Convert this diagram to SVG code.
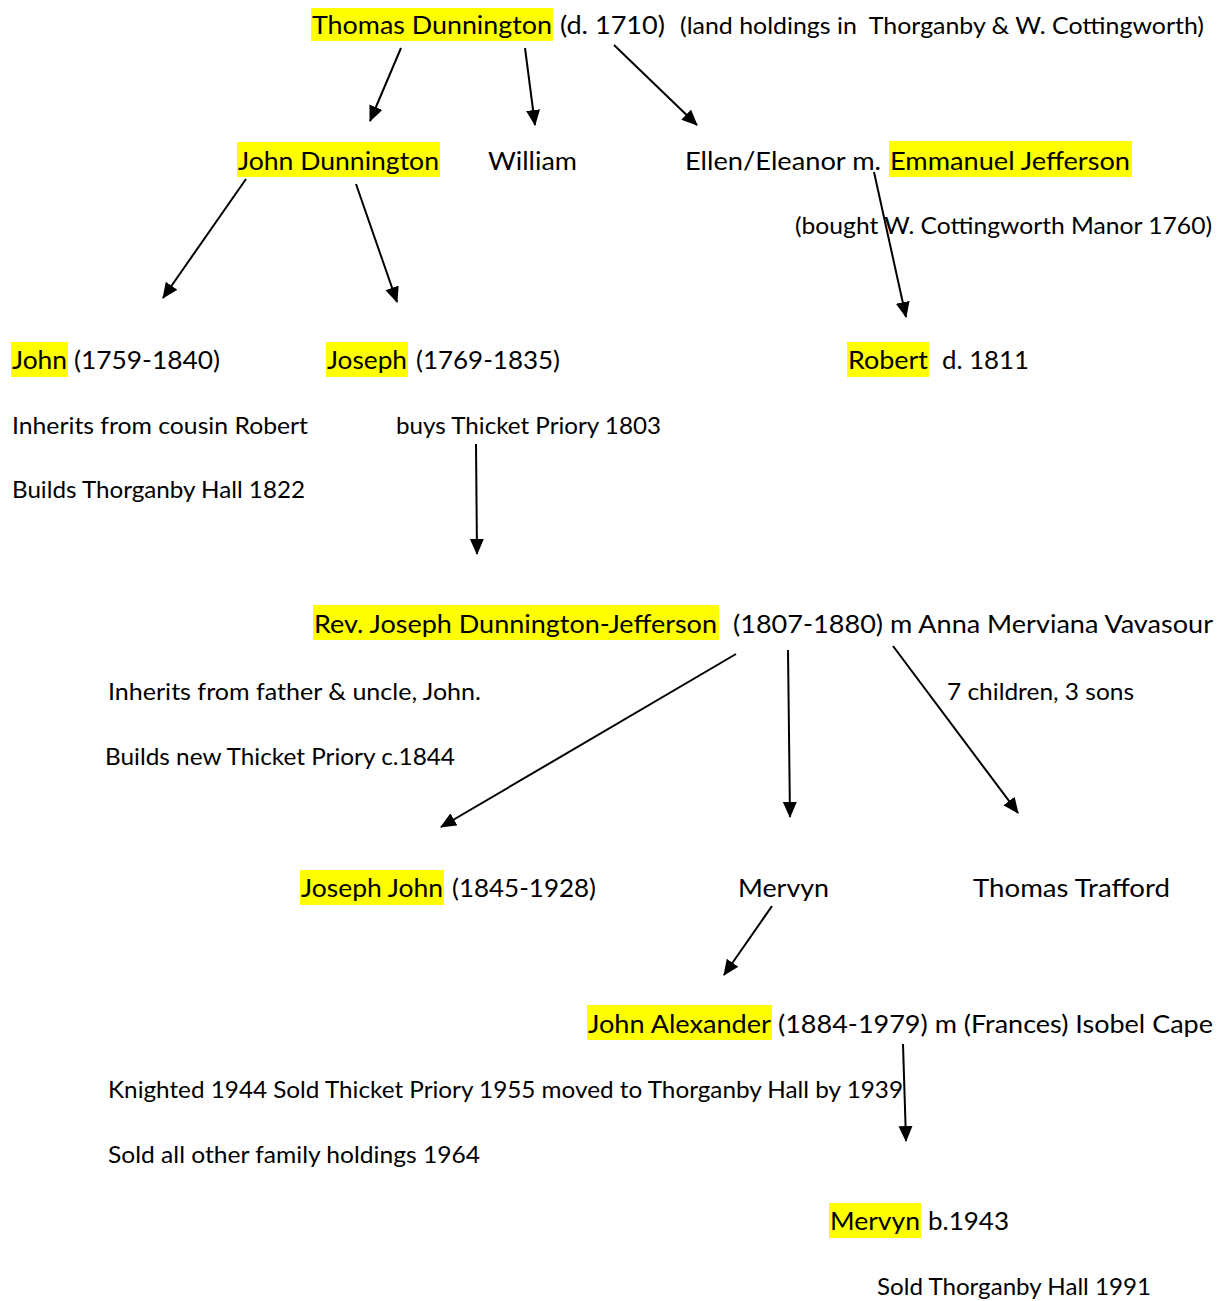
<svg xmlns="http://www.w3.org/2000/svg" width="1225" height="1301" viewBox="0 0 1225 1301">
<style>
text{font-family:Lato,"Open Sans","Liberation Sans",sans-serif;font-size:25px;fill:#000;white-space:pre}
.s{font-size:23px}
.hl{fill:#ffff00}
.c line{stroke:#000;stroke-width:2;marker-end:url(#ah)}
</style>
<defs>
<marker id="ah" markerUnits="userSpaceOnUse" markerWidth="17" markerHeight="15" refX="15" refY="7" orient="auto">
<path d="M0,0 L16,7 L0,14 z" fill="#000"/>
</marker>
</defs>
<rect width="1225" height="1301" fill="#fff"/>
<g id="thomas">
<rect class="hl" x="311" y="8" width="242" height="33"/>
<text x="312" y="34" textLength="240" lengthAdjust="spacingAndGlyphs">Thomas Dunnington</text>
<text x="560" y="34" textLength="105" lengthAdjust="spacingAndGlyphs">(d. 1710)</text>
<text class="s" x="680" y="34" textLength="524" lengthAdjust="spacingAndGlyphs" xml:space="preserve">(land holdings in  Thorganby &amp; W. Cottingworth)</text>
</g>
<g id="john-dunnington">
<rect class="hl" x="237" y="142" width="203" height="35"/>
<text x="238" y="170" textLength="201" lengthAdjust="spacingAndGlyphs">John Dunnington</text>
</g>
<g id="william">
<text x="488" y="170" textLength="89" lengthAdjust="spacingAndGlyphs">William</text>
</g>
<g id="ellen">
<text x="685" y="170" textLength="196" lengthAdjust="spacingAndGlyphs">Ellen/Eleanor m.</text>
<rect class="hl" x="889" y="141" width="243" height="36"/>
<text x="890" y="170" textLength="240" lengthAdjust="spacingAndGlyphs">Emmanuel Jefferson</text>
<text class="s" x="795" y="234" textLength="417" lengthAdjust="spacingAndGlyphs">(bought W. Cottingworth Manor 1760)</text>
</g>
<g id="john">
<rect class="hl" x="11" y="342" width="57" height="35"/>
<text x="12" y="369" textLength="55" lengthAdjust="spacingAndGlyphs">John</text>
<text x="74" y="369" textLength="146" lengthAdjust="spacingAndGlyphs">(1759-1840)</text>
<text class="s" x="12" y="434" textLength="296" lengthAdjust="spacingAndGlyphs">Inherits from cousin Robert</text>
<text class="s" x="12" y="498" textLength="293" lengthAdjust="spacingAndGlyphs">Builds Thorganby Hall 1822</text>
</g>
<g id="joseph">
<rect class="hl" x="326" y="342" width="82" height="35"/>
<text x="327" y="369" textLength="80" lengthAdjust="spacingAndGlyphs">Joseph</text>
<text x="416" y="369" textLength="144" lengthAdjust="spacingAndGlyphs">(1769-1835)</text>
<text class="s" x="396" y="434" textLength="265" lengthAdjust="spacingAndGlyphs">buys Thicket Priory 1803</text>
</g>
<g id="robert">
<rect class="hl" x="847" y="342" width="82" height="35"/>
<text x="848" y="369" textLength="80" lengthAdjust="spacingAndGlyphs">Robert</text>
<text x="942" y="369" textLength="87" lengthAdjust="spacingAndGlyphs">d. 1811</text>
</g>
<g id="rev-joseph">
<rect class="hl" x="313" y="605" width="406" height="35"/>
<text x="314" y="633" textLength="403" lengthAdjust="spacingAndGlyphs">Rev. Joseph Dunnington-Jefferson</text>
<text x="733" y="633" textLength="480" lengthAdjust="spacingAndGlyphs">(1807-1880) m Anna Merviana Vavasour</text>
<text class="s" x="108" y="700" textLength="373" lengthAdjust="spacingAndGlyphs">Inherits from father &amp; uncle, John.</text>
<text class="s" x="947" y="700" textLength="187" lengthAdjust="spacingAndGlyphs">7 children, 3 sons</text>
<text class="s" x="105" y="765" textLength="350" lengthAdjust="spacingAndGlyphs">Builds new Thicket Priory c.1844</text>
</g>
<g id="joseph-john">
<rect class="hl" x="300" y="870" width="144" height="35"/>
<text x="301" y="897" textLength="142" lengthAdjust="spacingAndGlyphs">Joseph John</text>
<text x="452" y="897" textLength="144" lengthAdjust="spacingAndGlyphs">(1845-1928)</text>
</g>
<g id="mervyn">
<text x="738" y="897" textLength="91" lengthAdjust="spacingAndGlyphs">Mervyn</text>
</g>
<g id="thomas-trafford">
<text x="973" y="897" textLength="197" lengthAdjust="spacingAndGlyphs">Thomas Trafford</text>
</g>
<g id="john-alexander">
<rect class="hl" x="587" y="1005" width="185" height="35"/>
<text x="588" y="1033" textLength="183" lengthAdjust="spacingAndGlyphs">John Alexander</text>
<text x="778" y="1033" textLength="435" lengthAdjust="spacingAndGlyphs">(1884-1979) m (Frances) Isobel Cape</text>
<text class="s" x="108" y="1098" textLength="795" lengthAdjust="spacingAndGlyphs">Knighted 1944 Sold Thicket Priory 1955 moved to Thorganby Hall by 1939</text>
<text class="s" x="108" y="1163" textLength="372" lengthAdjust="spacingAndGlyphs">Sold all other family holdings 1964</text>
</g>
<g id="mervyn-b1943">
<rect class="hl" x="829" y="1203" width="92" height="35"/>
<text x="830" y="1230" textLength="90" lengthAdjust="spacingAndGlyphs">Mervyn</text>
<text x="928" y="1230" textLength="81" lengthAdjust="spacingAndGlyphs">b.1943</text>
<text class="s" x="877" y="1295" textLength="274" lengthAdjust="spacingAndGlyphs">Sold Thorganby Hall 1991</text>
</g>
<g class="c" id="connectors">
<line x1="401" y1="48" x2="370" y2="121"/>
<line x1="525" y1="48" x2="535" y2="125"/>
<line x1="614" y1="45" x2="697" y2="125"/>
<line x1="246" y1="179" x2="163" y2="298"/>
<line x1="356" y1="184" x2="397" y2="302"/>
<line x1="874" y1="172" x2="906" y2="317"/>
<line x1="476" y1="444" x2="477" y2="554"/>
<line x1="736" y1="654" x2="441" y2="827"/>
<line x1="788" y1="650" x2="790" y2="817"/>
<line x1="893" y1="646" x2="1018" y2="813"/>
<line x1="772" y1="906" x2="724" y2="975"/>
<line x1="903" y1="1044" x2="906" y2="1141"/>
</g>
</svg>
